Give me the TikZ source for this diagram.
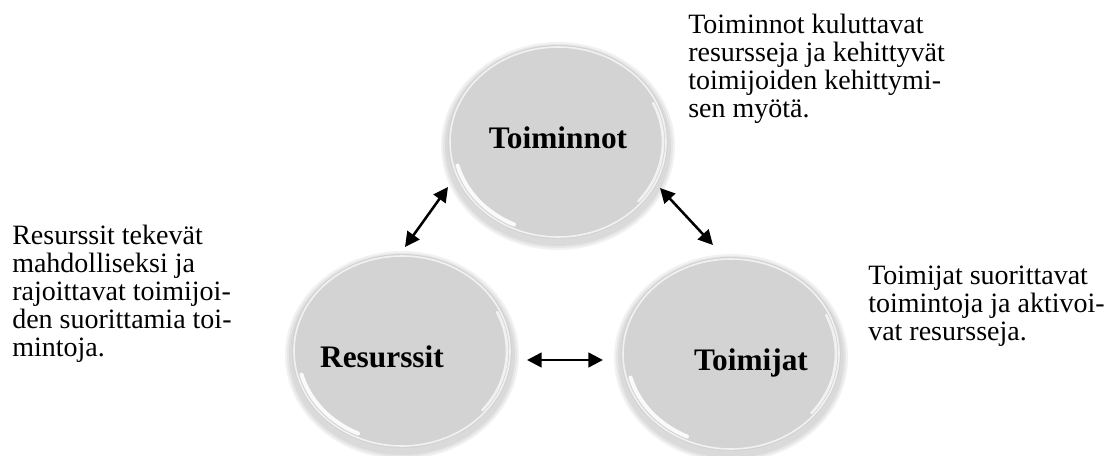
\documentclass[tikz,border=0pt]{standalone}
\usepackage{fontspec}
\setmainfont{Liberation Serif}
\usetikzlibrary{shapes.geometric,arrows.meta,calc}

\definecolor{ballgray}{RGB}{211,211,211}

\tikzset{
    ball/.style={ellipse, minimum width=165pt, minimum height=146pt, inner sep=0pt},
    lbl/.style={anchor=base, inner sep=0pt, font=\fontsize{23.5}{28}\selectfont\bfseries},
    txt/.style={align=left, anchor=base west, inner sep=0pt, font=\fontsize{21}{21}\selectfont},
    arr/.style={{Triangle[length=11pt,width=11pt]}-{Triangle[length=11pt,width=11pt]}, line width=1.9pt}
}

\begin{document}
\begin{tikzpicture}[x=0.75pt, y=0.75pt]
    \useasboundingbox (0,0) rectangle (1114,455);

    % Define the three balls
    \node[ball] (toim) at (558,313) {};
    \node[ball] (res) at (402,104) {};
    \node[ball] (tj) at (731,101) {};

    % Shade the balls
    \foreach \n in {toim,res,tj} {
        \foreach \k in {7,5,3}
            \fill[black, opacity=.05] ($(\n.center)+(0,-4)$) ellipse[x radius=110+\k, y radius=97+\k];
        \fill[ballgray] (\n.center) ellipse[x radius=110, y radius=97];
        \draw[white, line width=1.2pt, opacity=.7] (\n.center) ellipse[x radius=108, y radius=95];
        \draw[white, line width=3pt, opacity=.9, line cap=round] (\n.center) ++(195:104 and 91)
            arc[start angle=195, end angle=245, x radius=104, y radius=91];
        \draw[white, line width=2pt, opacity=.7, line cap=round] (\n.center) ++(-40:105 and 92)
            arc[start angle=-40, end angle=25, x radius=105, y radius=92];
    }

    % Place the labels
    \node[lbl] (toimL) at (558,307) {Toiminnot};
    \node[lbl] (resL) at (382,88) {Resurssit};
    \node[lbl] (tjL) at (751,85) {Toimijat};

    % Draw the arrows
    \draw[arr] ($(res.center)+(3,104)$) -- ($(toim.center)+(-110,-45)$);
    \draw[arr] ($(toim.center)+(102,-46)$) -- ($(tj.center)+(-18,109)$);
    \draw[arr] ($(res.center)+(125,-9)$) -- ($(tj.center)+(-128,-6)$);

    % Place the texts (anchored at the last line)
    \node[txt] (toimT) at (688,338) {Toiminnot kuluttavat\\resursseja ja kehittyvät\\toimijoiden kehittymi-\\sen myötä.};
    \node[txt] (resT) at (12,99) {Resurssit tekevät\\mahdolliseksi ja\\rajoittavat toimijoi-\\den suorittamia toi-\\mintoja.};
    \node[txt] (tjT) at (868,115) {Toimijat suorittavat\\toimintoja ja aktivoi-\\vat resursseja.};

\end{tikzpicture}
\end{document}
